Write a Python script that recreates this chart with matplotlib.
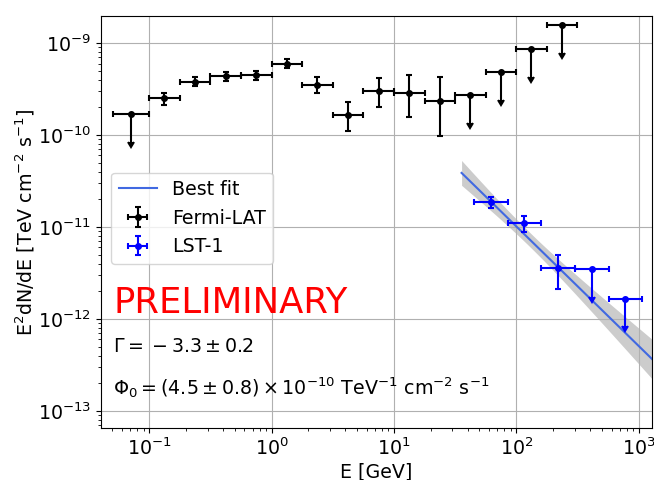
"""SED plot: Fermi-LAT + LST-1 with power-law best fit."""

import matplotlib

matplotlib.use("Agg")
import matplotlib.pyplot as plt
import numpy as np

# Fermi-LAT points (E in GeV, E2dN/dE in TeV cm-2 s-1)
fermi_e = [0.0707, 0.133, 0.237, 0.422, 0.750, 1.33, 2.37, 4.22, 7.50,
           13.3, 23.7, 42.2, 75.0, 133.0, 237.0]
fermi_e_lo = [0.0501, 0.1, 0.1778, 0.3162, 0.5623, 1.0, 1.778, 3.162, 5.623,
              10.0, 17.78, 31.62, 56.23, 100.0, 177.8]
fermi_e_hi = [0.1, 0.1778, 0.3162, 0.5623, 1.0, 1.778, 3.162, 5.623, 10.0,
              17.78, 31.62, 56.23, 100.0, 177.8, 316.2]
fermi_flux = [1.69e-10, 2.52e-10, 3.82e-10, 4.37e-10, 4.52e-10, 6.00e-10,
              3.54e-10, 1.66e-10, 3.03e-10, 2.86e-10, 2.37e-10, 2.74e-10,
              4.87e-10, 8.67e-10, 1.555e-9]
fermi_err_lo = [0, 0.41e-10, 0.39e-10, 0.45e-10, 0.54e-10, 0.66e-10,
                0.64e-10, 0.55e-10, 0.99e-10, 1.27e-10, 1.39e-10, 0, 0, 0, 0]
fermi_err_hi = [0, 0.38e-10, 0.44e-10, 0.54e-10, 0.51e-10, 0.70e-10,
                0.72e-10, 0.65e-10, 1.13e-10, 1.63e-10, 1.93e-10, 0, 0, 0, 0]
fermi_ul = [True, False, False, False, False, False, False, False, False,
            False, False, True, True, True, True]

# LST-1 points
lst_e = [61.9, 116.5, 219.3, 413.5, 779.0]
lst_e_lo = [45.1, 84.9, 160.0, 301.3, 567.5]
lst_e_hi = [84.9, 160.0, 301.3, 567.5, 1069.0]
lst_flux = [1.86e-11, 1.114e-11, 3.58e-12, 3.49e-12, 1.66e-12]
lst_err = [0.24e-11, 0.22e-11, 1.44e-12, 0, 0]
lst_ul = [False, False, False, True, True]

# power-law fit
gamma, gamma_err = 3.3, 0.2
phi0, phi0_err = 4.5e-10, 0.8e-10
e0_tev = 0.128
fit_emin, fit_emax = 35.7, 1400.0

UL_FRAC = 0.5
FS = 13.7


def asym(values, lo, hi):
    values = np.asarray(values)
    return [values - np.asarray(lo), np.asarray(hi) - values]


def ul_yerr(flux, err_lo, err_hi, ul):
    flux = np.asarray(flux)
    ul = np.asarray(ul)
    lo = np.where(ul, UL_FRAC * flux, err_lo)
    hi = np.where(ul, 0.0, err_hi)
    return [lo, hi]


fig = plt.figure(figsize=(6.54, 4.8), dpi=100)
ax = fig.add_axes([0.1544, 0.108, 0.842, 0.859])
ax.set_xscale("log")
ax.set_yscale("log")

# best fit + butterfly
e_fit = np.logspace(np.log10(fit_emin), np.log10(fit_emax), 200)
e_tev = e_fit / 1000.0
model = e_tev ** 2 * phi0 * (e_tev / e0_tev) ** (-gamma)
sig = np.sqrt((phi0_err / phi0) ** 2 + (gamma_err * np.log(e_tev / e0_tev)) ** 2)
ax.fill_between(e_fit, model * np.exp(-sig), model * np.exp(sig),
                color="gray", alpha=0.4, lw=0, zorder=1)
ax.plot(e_fit, model, color="royalblue", lw=1.5, label="Best fit", zorder=2)

ax.errorbar(fermi_e, fermi_flux,
            xerr=asym(fermi_e, fermi_e_lo, fermi_e_hi),
            yerr=ul_yerr(fermi_flux, fermi_err_lo, fermi_err_hi, fermi_ul),
            uplims=fermi_ul, fmt="o", color="black", ms=4, elinewidth=1.5,
            capsize=2.5, capthick=1.5, label="Fermi-LAT", zorder=3)
ax.errorbar(lst_e, lst_flux,
            xerr=asym(lst_e, lst_e_lo, lst_e_hi),
            yerr=ul_yerr(lst_flux, lst_err, lst_err, lst_ul),
            uplims=lst_ul, fmt="o", color="blue", ms=4, elinewidth=1.5,
            capsize=2.5, capthick=1.5, label="LST-1", zorder=3)

ax.set_xlim(0.0403, 1277)
ax.set_ylim(6.5e-14, 1.98e-9)
ax.grid(True, which="major")
ax.tick_params(labelsize=FS)
ax.set_xlabel("E [GeV]", fontsize=FS, labelpad=2)
ax.set_ylabel(r"E$^2$dN/dE [TeV cm$^{-2}$ s$^{-1}$]", fontsize=FS)
ax.yaxis.set_label_coords(-0.117, 0.5)

ax.legend(loc="upper left", bbox_to_anchor=(0.018, 0.62), borderaxespad=0,
          fontsize=FS)

ax.text(0.022, 0.28, "PRELIMINARY", color="red", fontsize=25.5,
        transform=ax.transAxes, va="baseline")
ax.text(0.022, 0.185, r"$\Gamma = \:-\: 3.3 \pm 0.2$", fontsize=FS,
        transform=ax.transAxes, va="baseline")
ax.text(0.022, 0.08,
        r"$\Phi_0 = (4.5 \pm 0.8) \times 10^{-10}$ TeV$^{-1}$ cm$^{-2}$ s$^{-1}$",
        fontsize=FS, transform=ax.transAxes, va="baseline")

fig.savefig("out.png", dpi=100)
